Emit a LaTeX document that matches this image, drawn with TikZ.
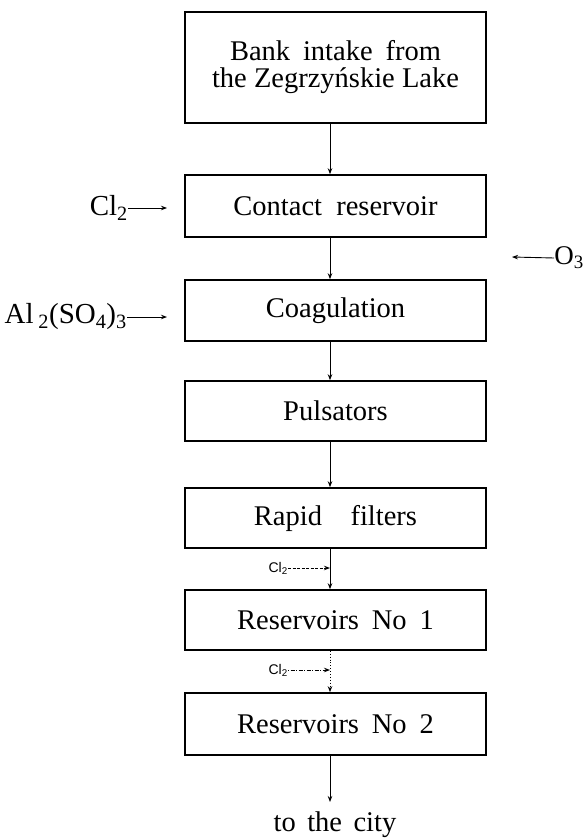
\documentclass[tikz,border=0pt]{standalone}
\usepackage{fontspec}
\setmainfont{Liberation Serif}
\newfontfamily\smallsans{Liberation Sans}
\usetikzlibrary{arrows.meta}
\begin{document}
\begin{tikzpicture}[x=1pt,y=-1pt,
  box/.style={draw,line width=1.6pt,minimum width=301pt,inner sep=0pt,align=center,font=\fontsize{28.5}{27}\selectfont},
  arr/.style={line width=0.9pt,-{Stealth[length=6pt,width=4.5pt]}},
  chem/.style={inner sep=0pt,font=\fontsize{29}{29}\selectfont},
  smallchem/.style={inner sep=0pt,font=\smallsans\fontsize{14}{14}\selectfont}]
\useasboundingbox (0,0) rectangle (585,838);
\coordinate (ax) at (330,0);
% boxes
\node[box,minimum height=111pt] (b1) at (335.5,67.5) {Bank\hspace{0.45em}intake\hspace{0.45em}from\\the Zegrzyńskie Lake};
\node[box,minimum height=62pt] (b2) at (335.5,206) {Contact\hspace{0.5em}reservoir};
\node[box,minimum height=61pt] (b3) at (335.5,310.5) {Coagulation};
\node[box,minimum height=60pt] (b4) at (335.5,411) {Pulsators};
\node[box,minimum height=60pt] (b5) at (335.5,518) {Rapid\hspace{1em}filters};
\node[box,minimum height=60pt] (b6) at (335.5,620) {Reservoirs\hspace{0.45em}No\hspace{0.45em}1};
\node[box,minimum height=62pt] (b7) at (335.5,724) {Reservoirs\hspace{0.45em}No\hspace{0.45em}2};
\node[inner sep=0pt,font=\fontsize{28.5}{28}\selectfont] (city) at (335,825) {to\hspace{0.4em}the\hspace{0.4em}city};
\coordinate (cityend) at (330,802);
% main flow
\draw[arr] (b1.south -| ax) -- (b2.north -| ax);
\draw[arr] (b2.south -| ax) -- (b3.north -| ax);
\draw[arr] (b3.south -| ax) -- (b4.north -| ax);
\draw[arr] (b4.south -| ax) -- (b5.north -| ax);
\draw[arr] (b5.south -| ax) -- (b6.north -| ax);
\draw[arr,dotted,line width=1pt] (b6.south -| ax) -- (b7.north -| ax);
\draw[arr] (b7.south -| ax) -- (cityend);
% reagents
\node[chem,anchor=east] (cl) at (128,208) {Cl\textsubscript{2}};
\coordinate (clend) at (167,208);
\draw[arr] (cl.east) -- (clend);
\node[chem,anchor=east] (al) at (127,317) {Al\,\textsubscript{2}(SO\textsubscript{4})\textsubscript{3}};
\coordinate (alend) at (167,317);
\draw[arr] (al.east) -- (alend);
\node[chem,anchor=east,font=\fontsize{27}{27}\selectfont] (o3) at (584,258) {O\textsubscript{3}};
\coordinate (o3end) at (512,257);
\draw[arr] (o3.west) -- (o3end);
\node[smallchem,anchor=east] (cla) at (288,568) {Cl\textsubscript{2}};
\coordinate (claend) at (330,568);
\draw[arr,dashed,dash pattern=on 3pt off 1.5pt] (cla.east) -- (claend);
\node[smallchem,anchor=east] (clb) at (288,670) {Cl\textsubscript{2}};
\coordinate (clbend) at (330,670);
\draw[arr,dash pattern=on 1pt off 1.5pt on 4pt off 1.5pt] (clb.east) -- (clbend);
\end{tikzpicture}
\end{document}
